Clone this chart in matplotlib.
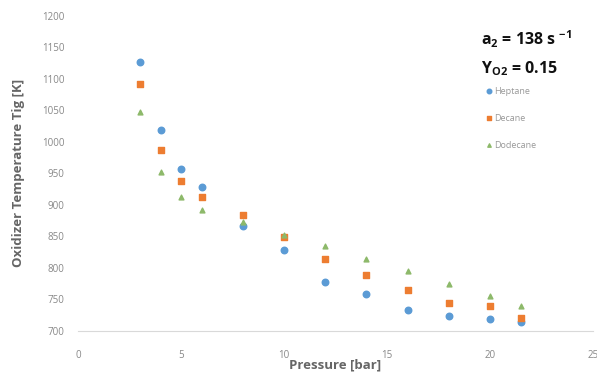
import matplotlib
matplotlib.use("Agg")
import matplotlib.pyplot as plt

plt.rcParams['font.family'] = ['Open Sans', 'DejaVu Sans']
plt.rcParams['mathtext.fontset'] = 'custom'
plt.rcParams['mathtext.rm'] = 'Open Sans'
plt.rcParams['mathtext.bf'] = 'Open Sans:bold'

pressure_hep = [3, 4, 5, 6, 8, 10, 12, 14, 16, 18, 20, 21.5]
heptane = [1127, 1019, 957, 929, 867, 829, 778, 759, 733, 724, 719, 714]
pressure_dec = [3, 4, 5, 6, 8, 10, 12, 14, 16, 18, 20, 21.5]
decane = [1092, 987, 938, 913, 884, 849, 814, 789, 765, 744, 740, 721]
pressure_dod = [3, 4, 5, 6, 8, 10, 12, 14, 16, 18, 20, 21.5]
dodecane = [1048, 952, 913, 892, 873, 852, 835, 814, 795, 775, 756, 740]

x_ticks = [0, 5, 10, 15, 20, 25]
y_ticks = [700, 750, 800, 850, 900, 950, 1000, 1050, 1100, 1150, 1200]

fig = plt.figure(figsize=(5.97, 3.79), dpi=100)
ax = fig.add_axes([0.131, 0.127, 0.862, 0.831])

ax.scatter(pressure_hep, heptane, marker='o', s=22, color='#5B9BD5', label='Heptane', zorder=3)
ax.scatter(pressure_dec, decane, marker='s', s=20, color='#ED7D31', label='Decane', zorder=3)
ax.scatter(pressure_dod, dodecane, marker='^', s=12, color='#8DB96A', label='Dodecane', zorder=3)

ax.set_xlim(0, 25)
ax.set_ylim(700, 1200)
ax.set_xticks(x_ticks)
ax.set_yticks(y_ticks)
ax.tick_params(axis='y', length=0, labelsize=7, labelcolor='#888888', pad=10)
ax.tick_params(axis='x', length=0, labelsize=7, labelcolor='#888888', pad=14)
for s in ['top', 'right', 'left']:
    ax.spines[s].set_visible(False)
ax.spines['bottom'].set_color('#D9D9D9')

ax.set_xlabel('Pressure [bar]', fontsize=9.5, fontweight='bold', color='#666666', labelpad=-2)
ax.set_ylabel('Oxidizer Temperature Tig [K]', fontsize=9.5, fontweight='bold', color='#666666', labelpad=12)

fig.text(0.806, 0.896, r'a$_\mathbf{2}$ = 138 s $^{\mathbf{-1}}$', fontsize=11.5, fontweight='bold', color='#111111', va='center')
fig.text(0.806, 0.818, r'Y$_\mathbf{O2}$ = 0.15', fontsize=11.5, fontweight='bold', color='#111111', va='center')

leg = ax.legend(loc='upper left', bbox_to_anchor=(0.78, 0.79), frameon=False, fontsize=6.5,
                labelcolor='#999999', handletextpad=0.1, labelspacing=2.0, borderpad=0,
                handlelength=1.0, markerscale=0.7)

fig.savefig('out.png', dpi=100)
